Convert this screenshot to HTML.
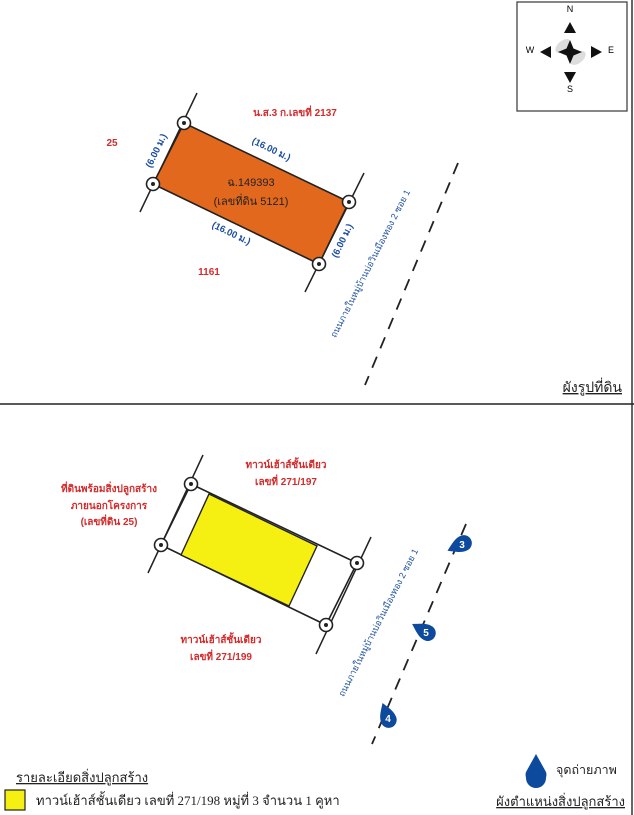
<!DOCTYPE html>
<html><head><meta charset="utf-8"><style>
html,body{margin:0;padding:0;background:#fff;}
body{width:634px;height:815px;overflow:hidden;position:relative;}
svg{position:absolute;left:0;top:0;}
text{font-family:"Liberation Sans","Noto Sans CJK SC",sans-serif;}
.r{fill:#d42a2a;font-size:10px;font-weight:bold;}
.b{fill:#1d4fa0;font-size:9.5px;font-weight:bold;}
.s{font-family:"Liberation Serif","Noto Serif CJK SC",serif;}
</style></head><body>
<svg width="634" height="815" viewBox="0 0 634 815">
<defs>
<g id="pin"><circle r="6.5" fill="#fff" stroke="#222" stroke-width="1.6"/><circle r="2" fill="#222"/></g>
<g id="mk"><path d="M0,-16 C5,-8 8,-4 8,2 A8,8 0 1 1 -8,2 C-8,-4 -5,-8 0,-16Z" fill="#0d4a9e"/></g>
</defs>
<line x1="632" y1="0" x2="632" y2="815" stroke="#333" stroke-width="1.5"/>
<line x1="0" y1="404" x2="634" y2="404" stroke="#222" stroke-width="1.5"/>
<rect x="517" y="2" width="110" height="109" fill="#fff" stroke="#444" stroke-width="1.3"/>
<ellipse cx="563" cy="46" rx="9" ry="5" fill="#ddd" transform="rotate(-40 563 46)"/>
<ellipse cx="578" cy="58" rx="9" ry="5" fill="#ddd" transform="rotate(-40 578 58)"/>
<path d="M570,40 L573.5,48.5 L582,52 L573.5,55.5 L570,64 L566.5,55.5 L558,52 L566.5,48.5Z" fill="#111"/>
<path d="M570,22 L576,33 L564,33Z" fill="#111"/>
<path d="M570,83 L576,72 L564,72Z" fill="#111"/>
<path d="M540,52 L551,46 L551,58Z" fill="#111"/>
<path d="M602,52 L591,46 L591,58Z" fill="#111"/>
<text x="570" y="12" font-size="9" text-anchor="middle">N</text>
<text x="570" y="92" font-size="9" text-anchor="middle">S</text>
<text x="530" y="53" font-size="9" text-anchor="middle">W</text>
<text x="611" y="53" font-size="9" text-anchor="middle">E</text>
<line x1="197" y1="93" x2="140" y2="212" stroke="#222" stroke-width="1.5"/>
<line x1="364" y1="173" x2="305" y2="292" stroke="#222" stroke-width="1.5"/>
<polygon points="184,123 349,202 319,264 153,184" fill="#e2681d" stroke="#222" stroke-width="1.6"/>
<use href="#pin" x="184" y="123"/><use href="#pin" x="153" y="184"/><use href="#pin" x="349" y="202"/><use href="#pin" x="319" y="264"/>
<line x1="458" y1="163" x2="365" y2="385" stroke="#222" stroke-width="1.8" stroke-dasharray="12,9"/>
<text class="r" x="295" y="116" text-anchor="middle">น.ส.3 ก.เลขที่ 2137</text>
<text class="r" x="112" y="146" text-anchor="middle">25</text>
<text class="r" x="209" y="275" text-anchor="middle">1161</text>
<text x="251" y="186" font-size="11" fill="#222" text-anchor="middle">ฉ.149393</text>
<text x="251" y="205" font-size="11" fill="#222" text-anchor="middle">(เลขที่ดิน 5121)</text>
<text class="b" x="270" y="152" text-anchor="middle" transform="rotate(25.6 270 152)">(16.00 ม.)</text>
<text class="b" x="230" y="236" text-anchor="middle" transform="rotate(25.6 230 236)">(16.00 ม.)</text>
<text class="b" x="159" y="152" text-anchor="middle" transform="rotate(-64 159 152)">(6.00 ม.)</text>
<text class="b" x="345" y="242" text-anchor="middle" transform="rotate(-64 345 242)">(6.00 ม.)</text>
<text x="373" y="265" font-size="9" fill="#1d4fa0" text-anchor="middle" transform="rotate(-63 373 265)">ถนนภายในหมู่บ้านบ่อวินเมืองทอง 2 ซอย 1</text>
<text class="s" x="622" y="392" font-size="14" text-anchor="end" fill="#222" text-decoration="underline">ผังรูปที่ดิน</text>
<line x1="203" y1="455" x2="148" y2="573" stroke="#222" stroke-width="1.5"/>
<line x1="371" y1="537" x2="316" y2="654" stroke="#222" stroke-width="1.5"/>
<polygon points="191,484 357,563 326,625 161,545" fill="#fff" stroke="#222" stroke-width="1.6"/>
<polygon points="209,494 317,546 289,606 181,555" fill="#f5ef12" stroke="#222" stroke-width="1.4"/>
<use href="#pin" x="191" y="484"/><use href="#pin" x="161" y="545"/><use href="#pin" x="357" y="563"/><use href="#pin" x="326" y="625"/>
<line x1="466" y1="524" x2="372" y2="744" stroke="#222" stroke-width="1.8" stroke-dasharray="12,9"/>
<use href="#mk" transform="translate(462 544) rotate(-115)"/>
<use href="#mk" transform="translate(426 632) rotate(-60)"/>
<use href="#mk" transform="translate(388 718) rotate(-20)"/>
<text x="462" y="548" font-size="10" fill="#fff" text-anchor="middle" font-weight="bold">3</text>
<text x="426" y="636" font-size="10" fill="#fff" text-anchor="middle" font-weight="bold">5</text>
<text x="388" y="722" font-size="10" fill="#fff" text-anchor="middle" font-weight="bold">4</text>
<text x="381" y="624" font-size="9" fill="#1d4fa0" text-anchor="middle" transform="rotate(-63 381 624)">ถนนภายในหมู่บ้านบ่อวินเมืองทอง 2 ซอย 1</text>
<text class="r" x="286" y="468" text-anchor="middle">ทาวน์เฮ้าส์ชั้นเดียว</text>
<text class="r" x="286" y="485" text-anchor="middle">เลขที่ 271/197</text>
<text class="r" x="109" y="492" text-anchor="middle">ที่ดินพร้อมสิ่งปลูกสร้าง</text>
<text class="r" x="109" y="509" text-anchor="middle">ภายนอกโครงการ</text>
<text class="r" x="109" y="525" text-anchor="middle">(เลขที่ดิน 25)</text>
<text class="r" x="221" y="643" text-anchor="middle">ทาวน์เฮ้าส์ชั้นเดียว</text>
<text class="r" x="221" y="660" text-anchor="middle">เลขที่ 271/199</text>
<text class="s" x="16" y="782" font-size="13" fill="#222" text-decoration="underline">รายละเอียดสิ่งปลูกสร้าง</text>
<rect x="5" y="790" width="20" height="20" fill="#f5ef12" stroke="#222" stroke-width="1.2"/>
<text class="s" x="36" y="805" font-size="13" fill="#222">ทาวน์เฮ้าส์ชั้นเดียว เลขที่ 271/198 หมู่ที่ 3 จำนวน 1 คูหา</text>
<path d="M536,754 L546,772 C547,775 546,777 546,778 A10,10 0 1 1 526,778 C526,777 525,775 526,772Z" fill="#0d4a9e"/>
<text class="s" x="556" y="774" font-size="12.5" fill="#222">จุดถ่ายภาพ</text>
<text class="s" x="625" y="806" font-size="13" fill="#222" text-anchor="end" text-decoration="underline">ผังตำแหน่งสิ่งปลูกสร้าง</text>
</svg>
</body></html>
